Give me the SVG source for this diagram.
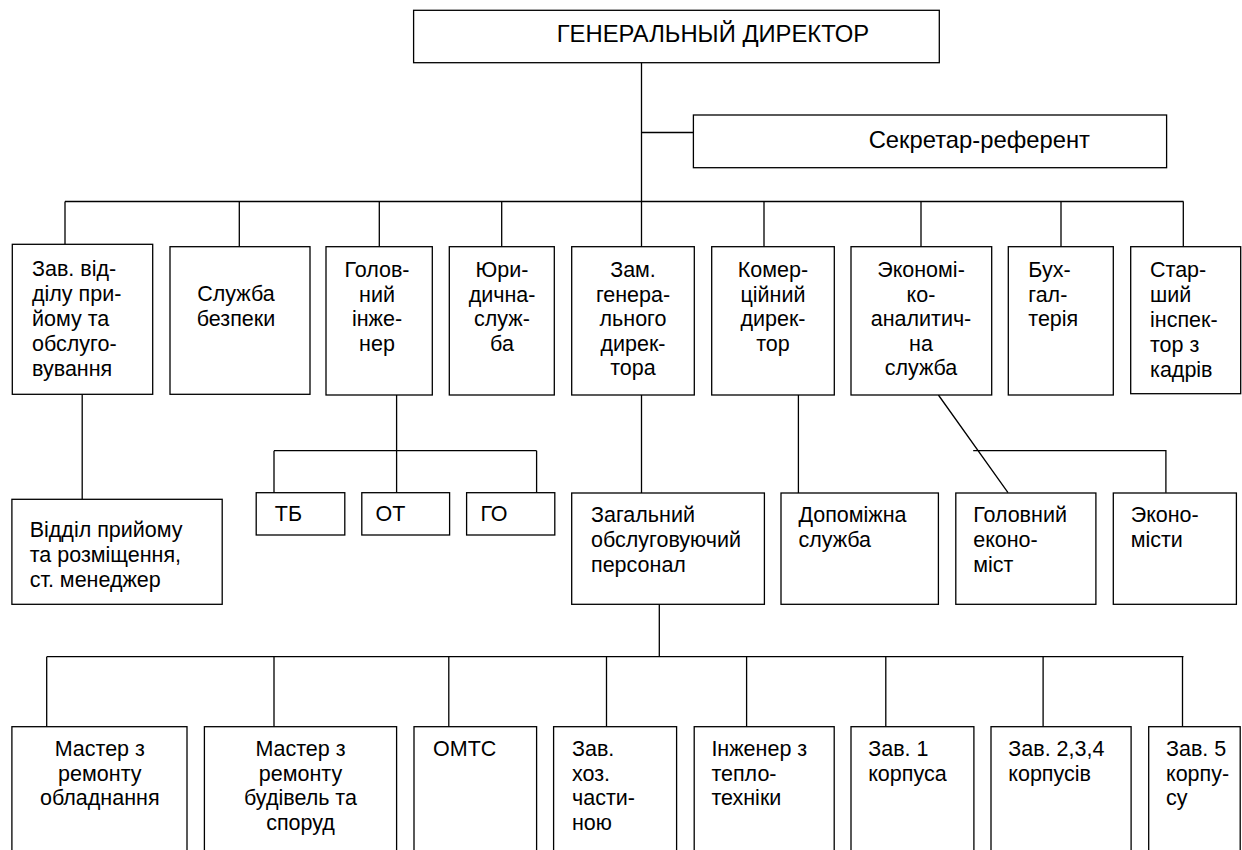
<svg xmlns="http://www.w3.org/2000/svg" width="1242" height="850" viewBox="0 0 1242 850">
<style>
.box{fill:#fff;stroke:#000;stroke-width:1.3}
.ln{fill:none;stroke:#000;stroke-width:1.3}
text{font-family:"Liberation Sans",Arial,sans-serif;font-size:21.5px;fill:#000}
.c{text-anchor:middle}
.big{font-size:23.8px}
</style>
<rect width="1242" height="850" fill="#fff"/>
<g id="connectors">
<path class="ln" d="M641.5 62.7V493 M641.5 132.5H693.5 M65 201.5H1183.5 M65 201.5V244.3 M239.3 201.5V246.7 M379.3 201.5V246.7 M501.7 201.5V246.7 M764 201.5V246.7 M921 201.5V246.7 M1061 201.5V246.7 M1183.3 201.5V246.7"/>
<path class="ln" d="M82.2 394.3V499.3"/>
<path class="ln" d="M396.6 395V492.7 M274 450.7H536.6 M274 450.7V492.7 M536.6 450.7V492.7"/>
<path class="ln" d="M798.4 395V493"/>
<path class="ln" d="M938.4 395L1008 492.7 M973.2 450.7H1165.9V492.7"/>
<path class="ln" d="M659.3 604.3V656.7 M46.7 656.7H1183.5 M46.7 656.7V726.7 M274 656.7V726.7 M448.8 656.7V726.7 M606.5 656.7V726.7 M746.6 656.7V726.7 M885.8 656.7V726.7 M1043.1 656.7V726.7 M1182.5 656.7V726.7"/>
</g>
<g id="n-gen"><rect class="box" x="413.6" y="10.3" width="525.7" height="52.4"/><text class="big" x="556.7" y="41.7">ГЕНЕРАЛЬНЫЙ ДИРЕКТОР</text></g>
<g id="n-sec"><rect class="box" x="693.4" y="115" width="473.2" height="52.7"/><text class="big" x="868.7" y="148.3">Секретар-референт</text></g>
<g id="n-zav"><rect class="box" x="12.3" y="244.3" width="140.4" height="150"/><text x="32" y="276">Зав. від-</text><text x="32" y="301">ділу при-</text><text x="32" y="326">йому та</text><text x="32" y="351">обслуго-</text><text x="32" y="376">вування</text></g>
<g id="n-sb"><rect class="box" x="170" y="246.7" width="140" height="147.6"/><text class="c" x="236" y="301">Служба</text><text class="c" x="236" y="326">безпеки</text></g>
<g id="n-gi"><rect class="box" x="326" y="246.7" width="106.3" height="148.3"/><text class="c" x="377" y="277">Голов-</text><text class="c" x="377" y="302">ний</text><text class="c" x="377" y="326">інже-</text><text class="c" x="377" y="351">нер</text></g>
<g id="n-yur"><rect class="box" x="449.3" y="246.7" width="105" height="148.3"/><text class="c" x="502" y="277">Юри-</text><text class="c" x="502" y="302">дична-</text><text class="c" x="502" y="326">служ-</text><text class="c" x="502" y="351">ба</text></g>
<g id="n-zam"><rect class="box" x="571.7" y="246.7" width="122.6" height="148.3"/><text class="c" x="633" y="277">Зам.</text><text class="c" x="633" y="302">генера-</text><text class="c" x="633" y="326">льного</text><text class="c" x="633" y="351">дирек-</text><text class="c" x="633" y="375">тора</text></g>
<g id="n-kom"><rect class="box" x="711.7" y="246.7" width="122.6" height="148.3"/><text class="c" x="773" y="277">Комер-</text><text class="c" x="773" y="302">ційний</text><text class="c" x="773" y="326">дирек-</text><text class="c" x="773" y="351">тор</text></g>
<g id="n-eko"><rect class="box" x="851" y="246.7" width="140.7" height="148.3"/><text class="c" x="921" y="277">Экономі-</text><text class="c" x="921" y="302">ко-</text><text class="c" x="921" y="326">аналитич-</text><text class="c" x="921" y="351">на</text><text class="c" x="921" y="375">служба</text></g>
<g id="n-buh"><rect class="box" x="1008.3" y="246.7" width="105" height="148.3"/><text x="1028.3" y="277">Бух-</text><text x="1028.3" y="302">гал-</text><text x="1028.3" y="326">терія</text></g>
<g id="n-star"><rect class="box" x="1130.7" y="246.7" width="110" height="147"/><text x="1150" y="277">Стар-</text><text x="1150" y="302">ший</text><text x="1150" y="326.5">інспек-</text><text x="1150" y="351.5">тор з</text><text x="1150" y="376.5">кадрів</text></g>
<g id="n-vid"><rect class="box" x="11.9" y="499.3" width="210.3" height="105"/><text x="29.7" y="537">Відділ прийому</text><text x="29.7" y="562">та розміщення,</text><text x="29.7" y="586.5">ст. менеджер</text></g>
<g id="n-tb"><rect class="box" x="256.2" y="492.7" width="88.6" height="42.3"/><text x="274.8" y="521">ТБ</text></g>
<g id="n-ot"><rect class="box" x="361.8" y="492.7" width="87.8" height="42.3"/><text x="375.6" y="521">ОТ</text></g>
<g id="n-go"><rect class="box" x="466.6" y="492.7" width="88.2" height="42.3"/><text x="480.4" y="521">ГО</text></g>
<g id="n-zag"><rect class="box" x="571.7" y="493" width="192.7" height="111.3"/><text x="591" y="522">Загальний</text><text x="591" y="547">обслуговуючий</text><text x="591" y="571.7">персонал</text></g>
<g id="n-dop"><rect class="box" x="781" y="493" width="157.4" height="111.3"/><text x="798.4" y="522">Допоміжна</text><text x="798.4" y="547">служба</text></g>
<g id="n-ge"><rect class="box" x="955.8" y="493" width="140.1" height="111.3"/><text x="973.2" y="522">Головний</text><text x="973.2" y="547">еконо-</text><text x="973.2" y="571.7">міст</text></g>
<g id="n-ek"><rect class="box" x="1113.3" y="493" width="123.1" height="111.3"/><text x="1130.7" y="522">Эконо-</text><text x="1130.7" y="547">місти</text></g>
<g id="n-m1"><rect class="box" x="11.9" y="726.7" width="175.1" height="140"/><text class="c" x="99.8" y="756">Мастер з</text><text class="c" x="99.8" y="780.5">ремонту</text><text class="c" x="99.8" y="805">обладнання</text></g>
<g id="n-m2"><rect class="box" x="204.4" y="726.7" width="192.2" height="140"/><text class="c" x="300.5" y="756">Мастер з</text><text class="c" x="300.5" y="780.5">ремонту</text><text class="c" x="300.5" y="805">будівель та</text><text class="c" x="300.5" y="829.5">споруд</text></g>
<g id="n-omts"><rect class="box" x="414" y="726.7" width="122.6" height="140"/><text x="433" y="756">ОМТС</text></g>
<g id="n-hoz"><rect class="box" x="553.6" y="726.7" width="123" height="140"/><text x="572" y="756">Зав.</text><text x="572" y="780.5">хоз.</text><text x="572" y="805">части-</text><text x="572" y="829.5">ною</text></g>
<g id="n-ing"><rect class="box" x="694.2" y="726.7" width="140" height="140"/><text x="711.4" y="756">Інженер з</text><text x="711.4" y="780.5">тепло-</text><text x="711.4" y="805">техніки</text></g>
<g id="n-k1"><rect class="box" x="851" y="726.7" width="122.9" height="140"/><text x="868.2" y="756">Зав. 1</text><text x="868.2" y="780.5">корпуса</text></g>
<g id="n-k234"><rect class="box" x="991" y="726.7" width="140.1" height="140"/><text x="1008.3" y="756">Зав. 2,3,4</text><text x="1008.3" y="780.5">корпусів</text></g>
<g id="n-k5"><rect class="box" x="1148.7" y="726.7" width="91.5" height="140"/><text x="1166" y="756">Зав. 5</text><text x="1166" y="780.5">корпу-</text><text x="1166" y="805">су</text></g>
</svg>
